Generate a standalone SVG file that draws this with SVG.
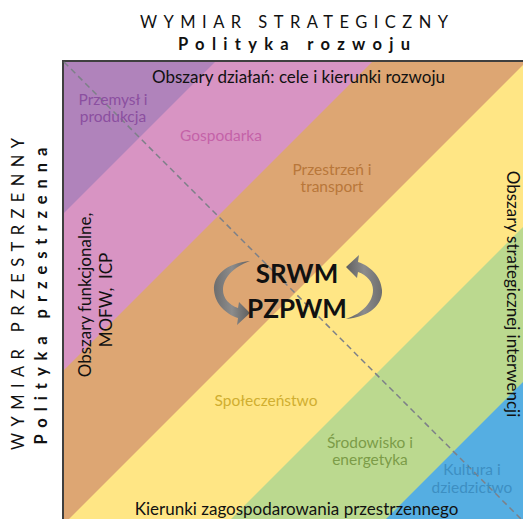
<svg xmlns="http://www.w3.org/2000/svg" width="523" height="519" viewBox="0 0 523 519">
<defs>
<clipPath id="box"><rect x="62" y="60" width="470" height="470"/></clipPath>
<linearGradient id="ag" x1="0" y1="0" x2="1" y2="0">
<stop offset="0" stop-color="#6e6e6e"/>
<stop offset="0.5" stop-color="#8c8c8c"/>
<stop offset="1" stop-color="#5e5e5e"/>
</linearGradient>
<path id="carrow" d="M 250,261 C 226,263 213,276 214,290 C 215,304 226,314 238,318 L 237,325 L 250,313 L 239,302 L 238,308 C 229,305 223,298 223,290 C 223,278 233,267 250,261 Z"/>
</defs>
<style>
text{font-family:Lato,"Open Sans","Liberation Sans",sans-serif;}
.ttl{font-size:16.5px;fill:#111;text-anchor:middle;}
.b{font-weight:bold;}
.lbl{font-size:15.5px;text-anchor:middle;}
.big{font-size:17px;text-anchor:middle;fill:#111;}
</style>
<rect width="523" height="519" fill="#ffffff"/>
<g id="bands" clip-path="url(#box)">
<rect x="62" y="60" width="470" height="470" fill="#55aee2"/>
<polygon points="0,0 905,0 0,905" fill="#bbd98f"/>
<polygon points="0,0 750,0 0,750" fill="#ffe685"/>
<polygon points="0,0 588,0 0,588" fill="#dda673"/>
<polygon points="0,0 434,0 0,434" fill="#d894c3"/>
<polygon points="0,0 277,0 0,277" fill="#b083bb"/>
</g>
<g id="frame">
<line x1="63" y1="60" x2="63" y2="519" stroke="#3f3f3f" stroke-width="2"/>
<line x1="62" y1="61" x2="523" y2="61" stroke="#3f3f3f" stroke-width="2"/>
</g>
<g id="diagonal">
<line x1="64" y1="62" x2="523" y2="521" stroke="#7d8088" stroke-width="1.5" stroke-dasharray="6,4"/>
</g>
<g id="titles">
<text class="ttl" x="294" y="28" textLength="308" lengthAdjust="spacing">WYMIAR STRATEGICZNY</text>
<text class="ttl b" x="294" y="50" textLength="232" lengthAdjust="spacing">Polityka rozwoju</text>
<text class="ttl" transform="translate(24,294) rotate(-90)" textLength="312" lengthAdjust="spacing">WYMIAR PRZESTRZENNY</text>
<text class="ttl b" transform="translate(47,296) rotate(-90)" textLength="297" lengthAdjust="spacing">Polityka przestrzenna</text>
</g>
<g id="areas">
<text class="big" x="298.5" y="83">Obszary działań: cele i kierunki rozwoju</text>
<text class="big" x="296.5" y="515">Kierunki zagospodarowania przestrzennego</text>
<g transform="translate(91,295) rotate(-90)"><text class="big" x="0" y="0">Obszary funkcjonalne,</text></g>
<g transform="translate(112,300) rotate(-90)"><text class="big" x="0" y="0" style="white-space:pre">MOFW,  ICP</text></g>
<g transform="translate(507,294) rotate(90)"><text class="big" x="0" y="0">Obszary strategicznej interwencji</text></g>
</g>
<g id="sectors">
<text class="lbl" fill="#8b4fa0" x="113" y="105">Przemysł i</text>
<text class="lbl" fill="#8b4fa0" x="113" y="122">produkcja</text>
<text class="lbl" fill="#c462a8" x="221" y="141">Gospodarka</text>
<text class="lbl" fill="#b8773a" x="332" y="175">Przestrzeń i</text>
<text class="lbl" fill="#b8773a" x="332" y="192">transport</text>
<text class="lbl" fill="#d0ae30" x="266" y="406">Społeczeństwo</text>
<text class="lbl" fill="#7c9c48" x="370" y="448">Środowisko i</text>
<text class="lbl" fill="#7c9c48" x="370" y="465">energetyka</text>
<text class="lbl" fill="#3d8fc2" x="472" y="475">Kultura i</text>
<text class="lbl" fill="#3d8fc2" x="472" y="493">dziedzictwo</text>
</g>
<g id="center">
<use href="#carrow" fill="url(#ag)"/>
<use href="#carrow" fill="url(#ag)" transform="rotate(180 298 290)"/>
<text class="b" fill="#111" font-size="26" text-anchor="middle" x="297" y="283">SRWM</text>
<text class="b" fill="#111" font-size="26" text-anchor="middle" x="297" y="318">PZPWM</text>
</g>
</svg>
